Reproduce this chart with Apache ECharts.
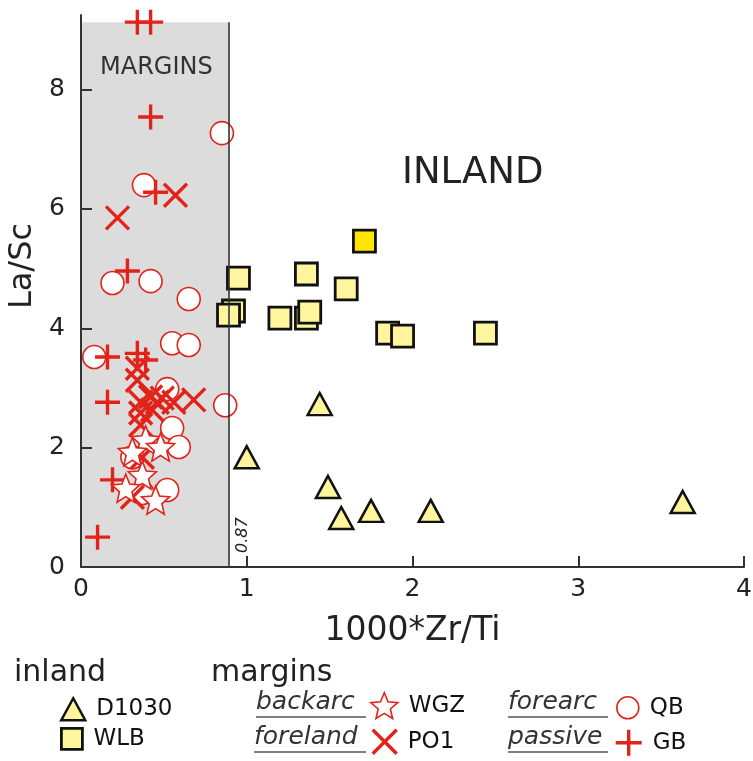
<!DOCTYPE html>
<html><head><meta charset="utf-8">
<script src="https://cdn.jsdelivr.net/npm/echarts@6/dist/echarts.min.js"></script>
<style>html,body{margin:0;padding:0;background:#fff}#c{width:753px;height:761px}</style>
</head><body><div id="c"></div>
<script>
// ---- data ----
const d1030X = [1.00, 1.44, 1.49, 1.57, 1.75, 2.11, 3.63];
const d1030Y = [1.84, 2.73, 1.34, 0.82, 0.94, 0.94, 1.09];
const wlbX = [0.95, 0.92, 0.89, 1.20, 1.36, 1.36, 1.38, 1.60, 1.85, 1.94, 2.44];
const wlbY = [4.84, 4.29, 4.22, 4.17, 4.91, 4.17, 4.27, 4.66, 3.92, 3.87, 3.92];
const wlbHighlightX = [1.71];
const wlbHighlightY = [5.46];
const qbX = [0.85, 0.38, 0.19, 0.42, 0.65, 0.08, 0.55, 0.65, 0.87, 0.52, 0.55, 0.59, 0.52, 0.31, 0.37];
const qbY = [7.27, 6.40, 4.76, 4.79, 4.49, 3.52, 3.75, 3.72, 2.71, 2.98, 2.33, 2.01, 1.29, 1.84, 1.24];
const po1X = [0.57, 0.22, 0.68, 0.34, 0.36, 0.42, 0.46, 0.49, 0.56, 0.36, 0.43, 0.36, 0.37, 0.31, 0.34];
const po1Y = [6.23, 5.85, 2.80, 3.13, 2.76, 2.85, 2.76, 2.83, 2.76, 2.58, 2.63, 2.38, 1.84, 1.17, 3.33];
const gbX = [0.34, 0.42, 0.42, 0.45, 0.28, 0.16, 0.34, 0.39, 0.16, 0.19, 0.10];
const gbY = [9.13, 9.13, 7.54, 6.28, 4.96, 3.52, 3.58, 3.47, 2.76, 1.46, 0.50];
const wgzX = [0.39, 0.48, 0.31, 0.37, 0.27, 0.45];
const wgzY = [2.13, 2.01, 1.93, 1.54, 1.32, 1.12];
const xTicks = [0, 1, 2, 3, 4];
const yTicks = [0, 2, 4, 6, 8];
const marginBoundary = 0.89;   // drawn boundary (labelled 0.87)
const marginTop = 9.13;
// ---- styles ----
const RED = '#e2231a';
const YEL = '#fff59c';
const zip = (a, b) => a.map((v, i) => [v, b[i]]);
function starPath() {
  const p = [];
  for (let i = 0; i < 10; i++) {
    const r = i % 2 ? 0.45 : 1, a = -Math.PI / 2 + i * Math.PI / 5;
    p.push((r * Math.cos(a)).toFixed(3) + ',' + (r * Math.sin(a)).toFixed(3));
  }
  return 'path://M' + p.join('L') + 'Z';
}
const STAR = starPath();
const XSYM = 'path://M0,0L10,10M10,0L0,10';
const PLUS = 'path://M5,0L5,10M0,5L10,5';
const FONT = 'DejaVu Sans';

const chart = echarts.init(document.getElementById('c'), null, {renderer: 'canvas'});
const legendBase = (name, left, top, w, h) => ({
  data: [name], left, top, padding: 0, itemWidth: w, itemHeight: h,
  selectedMode: false,
  itemStyle: {borderWidth: 'inherit'},
  textStyle: {fontFamily: FONT, fontSize: 23, color: '#111', padding: [0, 0, 0, 6]}
});
const option = {
  animation: false,
  backgroundColor: '#fff',
  grid: {left: 81, right: 9, top: 15, bottom: 194, containLabel: false, outerBoundsMode: 'none'},
  xAxis: {
    type: 'value', min: 0, max: 4, interval: 1, z: 10,
    name: '1000*Zr/Ti', nameLocation: 'middle', nameGap: 48,
    nameTextStyle: {fontFamily: FONT, fontSize: 33, color: '#222'},
    axisLine: {lineStyle: {color: '#333', width: 2}},
    axisTick: {inside: true, length: 11, lineStyle: {color: '#333', width: 2}},
    axisLabel: {fontFamily: FONT, fontSize: 25, color: '#222', margin: 10},
    splitLine: {show: false}
  },
  yAxis: {
    type: 'value', min: 0, max: 9.25, interval: 2, z: 10,
    name: 'La/Sc', nameLocation: 'middle', nameGap: 40, nameRotate: 90,
    nameTextStyle: {fontFamily: FONT, fontSize: 32, color: '#222', padding: [0, 0, 0, 50]},
    axisLine: {lineStyle: {color: '#333', width: 2}},
    axisTick: {inside: true, length: 11, customValues: yTicks, lineStyle: {color: '#333', width: 2}},
    axisLabel: {fontFamily: FONT, fontSize: 25, color: '#222', margin: 16, customValues: yTicks},
    splitLine: {show: false}
  },
  legend: [
    legendBase('D1030', 60, 697, 24, 22),
    legendBase('WLB', 60, 727, 21, 21),
    legendBase('WGZ', 370, 692, 27, 26),
    legendBase('PO1', 371, 728, 24, 24),
    legendBase('QB', 616, 696, 22, 22),
    legendBase('GB', 614, 728, 26, 26)
  ],
  series: [
    {
      type: 'scatter', name: '_bg', data: [], z: 1, silent: true,
      markArea: {silent: true, itemStyle: {color: '#dcdcdc'},
        data: [[{coord: [0, 0]}, {coord: [marginBoundary, marginTop]}]]},
      markLine: {silent: true, symbol: 'none', animation: false, label: {show: false},
        lineStyle: {color: '#333', width: 1.6, type: 'solid'},
        data: [[{coord: [marginBoundary, 0]}, {coord: [marginBoundary, marginTop]}]]}
    },
    {
      type: 'scatter', name: 'D1030', symbol: 'triangle', symbolSize: [24, 22], z: 3,
      itemStyle: {color: YEL, borderColor: '#111', borderWidth: 2.5, opacity: 1},
      data: zip(d1030X, d1030Y)
    },
    {
      type: 'scatter', name: 'WLB', symbol: 'rect', symbolSize: 22, z: 3,
      itemStyle: {color: YEL, borderColor: '#111', borderWidth: 2.8, opacity: 1},
      data: zip(wlbX, wlbY).concat(zip(wlbHighlightX, wlbHighlightY).map(v => ({value: v, itemStyle: {color: '#ffe500'}})))
    },
    {
      type: 'scatter', name: 'QB', symbol: 'circle', symbolSize: 23, z: 4,
      itemStyle: {color: '#fff', borderColor: RED, borderWidth: 1.6, opacity: 1},
      data: zip(qbX, qbY)
    },
    {
      type: 'scatter', name: 'PO1', symbol: XSYM, symbolSize: 23, z: 5,
      itemStyle: {color: 'rgba(0,0,0,0)', borderColor: RED, borderWidth: 3.4, opacity: 1},
      data: zip(po1X, po1Y)
    },
    {
      type: 'scatter', name: 'GB', symbol: PLUS, symbolSize: 25, z: 5,
      itemStyle: {color: 'rgba(0,0,0,0)', borderColor: RED, borderWidth: 3.4, opacity: 1},
      data: zip(gbX, gbY)
    },
    {
      type: 'scatter', name: 'WGZ', symbol: STAR, symbolSize: 28, z: 6,
      itemStyle: {color: '#fff', borderColor: RED, borderWidth: 1.6, opacity: 1},
      data: zip(wgzX, wgzY)
    }
  ],
  graphic: [
    {type: 'text', left: 100, top: 56, z: 20, style: {text: 'MARGINS', font: '24px "DejaVu Sans"', fill: '#333'}},
    {type: 'text', left: 402, top: 155, z: 20, style: {text: 'INLAND', font: '37px "DejaVu Sans"', fill: '#222'}},
    {type: 'text', x: 235, y: 553, rotation: Math.PI / 2, z: 20, style: {text: '0.87', font: 'italic 16px "DejaVu Sans"', fill: '#222'}},
    {type: 'text', left: 14, top: 658, z: 20, style: {text: 'inland', font: '30px "DejaVu Sans"', fill: '#222'}},
    {type: 'text', left: 211, top: 658, z: 20, style: {text: 'margins', font: '30px "DejaVu Sans"', fill: '#222'}},
    {type: 'text', left: 256, top: 690, z: 20, style: {text: 'backarc', font: 'italic 25px "DejaVu Sans"', fill: '#333'}},
    {type: 'text', left: 254, top: 725, z: 20, style: {text: 'foreland', font: 'italic 25px "DejaVu Sans"', fill: '#333'}},
    {type: 'text', left: 508, top: 690, z: 20, style: {text: 'forearc', font: 'italic 25px "DejaVu Sans"', fill: '#333'}},
    {type: 'text', left: 508, top: 725, z: 20, style: {text: 'passive', font: 'italic 25px "DejaVu Sans"', fill: '#333'}},
    {type: 'line', z: 20, shape: {x1: 256, y1: 717, x2: 366, y2: 717}, style: {stroke: '#555', lineWidth: 1.5}},
    {type: 'line', z: 20, shape: {x1: 254, y1: 752, x2: 366, y2: 752}, style: {stroke: '#555', lineWidth: 1.5}},
    {type: 'line', z: 20, shape: {x1: 508, y1: 717, x2: 608, y2: 717}, style: {stroke: '#555', lineWidth: 1.5}},
    {type: 'line', z: 20, shape: {x1: 508, y1: 752, x2: 608, y2: 752}, style: {stroke: '#555', lineWidth: 1.5}}
  ]
};
chart.setOption(option);
</script>
</body></html>
